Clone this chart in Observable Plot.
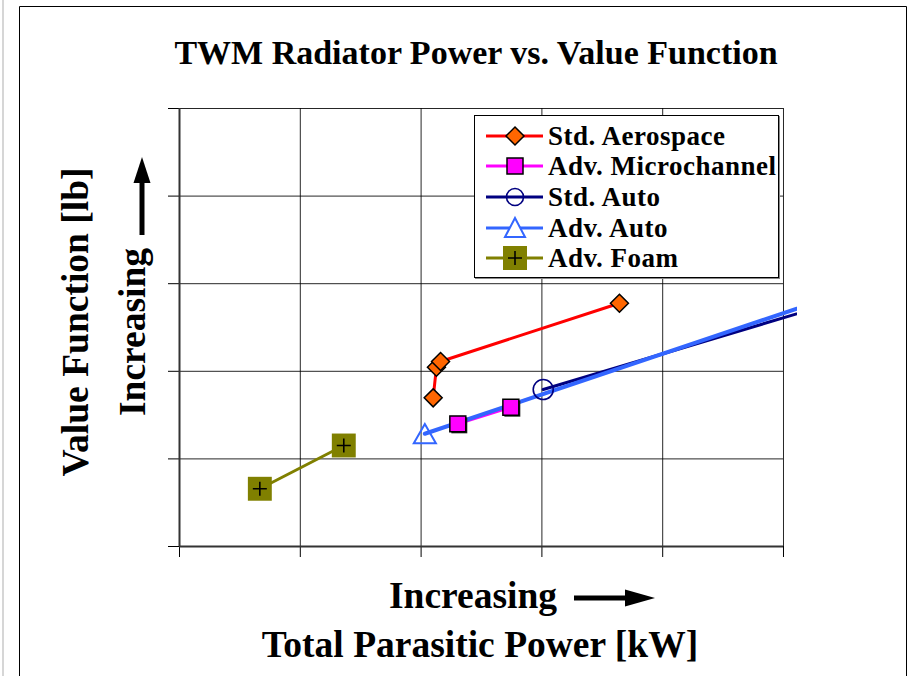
<!DOCTYPE html>
<html><head><meta charset="utf-8">
<script src="https://cdn.jsdelivr.net/npm/d3@7"></script>
<script src="https://cdn.jsdelivr.net/npm/@observablehq/plot@0.6"></script>
<style>
html,body{margin:0;padding:0;background:#fff;}
#wrap{position:relative;width:907px;height:676px;overflow:hidden;background:#fff;font-family:"Liberation Serif","Times New Roman",serif;font-weight:bold;color:#000;}
#wrap > svg{position:absolute;left:0;top:0;}
#legend{position:absolute;left:474px;top:115px;width:303px;height:161px;border:1px solid #000;background:#fff;box-shadow:1px 1px 0 #888;}
#legend .row{position:absolute;left:0;height:30px;width:303px;}
#legend .row svg{position:absolute;left:10px;top:0;}
#legend .row span{position:absolute;left:73px;top:0;line-height:30px;font-size:27px;letter-spacing:0.5px;white-space:nowrap;}
</style></head><body><div id="wrap"></div>
<script>
// ---- data (axes have no numeric labels, units = grid cells) ----
const xTicks = [0, 1, 2, 3, 4, 5];
const yTicks = [0, 1, 2, 3, 4, 5];
const seriesNames = ["Std. Aerospace", "Adv. Microchannel", "Std. Auto", "Adv. Auto", "Adv. Foam"];
const stdAeroX = [2.100, 2.127, 2.161, 3.642];
const stdAeroY = [1.697, 2.047, 2.112, 2.777];
const advMicroX = [2.304, 2.743];
const advMicroY = [1.400, 1.590];
const stdAutoX = [3.011, 5.4];
const stdAutoY = [1.792, 2.776];
const advAutoX = [2.031, 5.4];
const advAutoY = [1.287, 2.849];
const advFoamX = [0.665, 1.360];
const advFoamY = [0.659, 1.153];
const titleText = "TWM Radiator Power vs. Value Function";
const xLabel = "Total Parasitic Power [kW]";
const yLabel = "Value Function [lb]";
const dirLabel = "Increasing";

const rows = (name, xs, ys) => xs.map((x, i) => ({series: name, x, y: ys[i]}));
const aero = rows(seriesNames[0], stdAeroX, stdAeroY);
const micro = rows(seriesNames[1], advMicroX, advMicroY);
const stdAuto = rows(seriesNames[2], stdAutoX, stdAutoY);
const advAuto = rows(seriesNames[3], advAutoX, advAutoY);
const foam = rows(seriesNames[4], advFoamX, advFoamY);

const plusSymbol = {draw(ctx, size) { const r = Math.sqrt(size / Math.PI); ctx.moveTo(-r, 0); ctx.lineTo(r, 0); ctx.moveTo(0, -r); ctx.lineTo(0, r); }};

const chart = Plot.plot({
  width: 907, height: 676,
  marginLeft: 179, marginRight: 110, marginTop: 108, marginBottom: 130,
  x: {domain: [0, 5.116], axis: null},
  y: {domain: [0, 5], axis: null},
  style: {background: "transparent"},
  marks: [
    Plot.ruleX(xTicks, {x: d => d, y1: 0, y2: 5, stroke: "#000", strokeWidth: 1, strokeOpacity: 0.85}),
    Plot.ruleY(yTicks, {y: d => d, x1: 0, x2: 5, stroke: "#000", strokeWidth: 1, strokeOpacity: 0.85}),
    Plot.axisX({ticks: xTicks, tickSize: 11, tickFormat: () => "", label: null, stroke: "#000"}),
    Plot.axisY({ticks: yTicks, tickSize: 11, tickFormat: () => "", label: null, stroke: "#000"}),
    Plot.ruleY([0], {x1: 0, x2: 5, stroke: "#333", strokeWidth: 2}),
    Plot.ruleX([0], {y1: 0, y2: 5, stroke: "#333", strokeWidth: 2}),
    Plot.line(aero, {x: "x", y: "y", stroke: "#FF0000", strokeWidth: 3, clip: "frame"}),
    Plot.line(micro, {x: "x", y: "y", stroke: "#FF00FF", strokeWidth: 3}),
    Plot.line(stdAuto, {x: "x", y: "y", stroke: "#000080", strokeWidth: 3, clip: "frame"}),
    Plot.line(advAuto, {x: "x", y: "y", stroke: "#3366FF", strokeWidth: 4, clip: "frame"}),
    Plot.line(foam, {x: "x", y: "y", stroke: "#808000", strokeWidth: 3}),
    Plot.dot(aero, {x: "x", y: "y", symbol: "diamond2", r: 8.1, fill: "#FF6600", stroke: "#000", strokeWidth: 1.5}),
    Plot.dot(micro, {x: "x", y: "y", symbol: "square", r: 9, fill: "#222", stroke: "none", dx: 1.5, dy: 1.5}),
    Plot.dot(micro, {x: "x", y: "y", symbol: "square", r: 9, fill: "#FF00FF", stroke: "#000", strokeWidth: 1.5}),
    Plot.dot(stdAuto, {x: "x", y: "y", symbol: "circle", r: 10, fill: "none", stroke: "#000080", strokeWidth: 1.6, clip: "frame"}),
    Plot.dot(advAuto, {x: "x", y: "y", symbol: "triangle", r: 8.2, dy: 3, fill: "none", stroke: "#3366FF", strokeWidth: 2, clip: "frame"}),
    Plot.dot(foam, {x: "x", y: "y", symbol: "square", r: 13.5, fill: "#808000", stroke: "none"}),
    Plot.dot(foam, {x: "x", y: "y", symbol: plusSymbol, r: 7, fill: "none", stroke: "#000", strokeWidth: 1.6})
  ]
});
const wrap = document.getElementById("wrap");
wrap.appendChild(chart);

// overlay: frame, title, axis labels, arrows
const ov = d3.select(wrap).append("svg").attr("width", 907).attr("height", 676)
  .style("font-family", '"Liberation Serif","Times New Roman",serif').style("font-weight", "bold");
ov.append("line").attr("x1", 3).attr("x2", 3).attr("y1", 0).attr("y2", 676).attr("stroke", "#c8c8c8").attr("stroke-width", 1.5);
ov.append("path").attr("d", "M19.5,676V6.5H906.5V676").attr("fill", "none").attr("stroke", "#000").attr("stroke-width", 1);
ov.append("text").attr("x", 476).attr("y", 64).attr("text-anchor", "middle").attr("font-size", 34).text(titleText);
ov.append("text").attr("x", 389).attr("y", 608).attr("font-size", 37.5).text(dirLabel);
ov.append("line").attr("x1", 574).attr("x2", 628).attr("y1", 598).attr("y2", 598).attr("stroke", "#000").attr("stroke-width", 5);
ov.append("path").attr("d", "M625,589.5L655,598L625,606.5Z").attr("fill", "#000");
ov.append("text").attr("x", 480).attr("y", 657).attr("text-anchor", "middle").attr("font-size", 37.5).text(xLabel);
ov.append("text").attr("transform", "translate(88,322) rotate(-90)").attr("text-anchor", "middle").attr("font-size", 37.5).text(yLabel);
ov.append("text").attr("transform", "translate(145,332) rotate(-90)").attr("text-anchor", "middle").attr("font-size", 37.5).text(dirLabel);
ov.append("line").attr("x1", 142).attr("x2", 142).attr("y1", 235).attr("y2", 180).attr("stroke", "#000").attr("stroke-width", 5);
ov.append("path").attr("d", "M133.5,183L142,157L150.5,183Z").attr("fill", "#000");

// legend
const legendSpec = [
  {name: seriesNames[0], color: "#FF0000", w: 3, marker: g => g.append("path").attr("d", "M30,6L39,15L30,24L21,15Z").attr("fill", "#FF6600").attr("stroke", "#000").attr("stroke-width", 1.5)},
  {name: seriesNames[1], color: "#FF00FF", w: 3, marker: g => g.append("rect").attr("x", 22).attr("y", 7).attr("width", 16).attr("height", 16).attr("fill", "#FF00FF").attr("stroke", "#000").attr("stroke-width", 1.5)},
  {name: seriesNames[2], color: "#000080", w: 3, marker: g => g.append("circle").attr("cx", 30).attr("cy", 15).attr("r", 8.5).attr("fill", "none").attr("stroke", "#000080").attr("stroke-width", 1.6)},
  {name: seriesNames[3], color: "#3366FF", w: 3, marker: g => g.append("path").attr("d", "M30,5L40,24L20,24Z").attr("fill", "#fff").attr("stroke", "#3366FF").attr("stroke-width", 2)},
  {name: seriesNames[4], color: "#808000", w: 3, marker: g => { g.append("rect").attr("x", 18).attr("y", 3).attr("width", 24).attr("height", 24).attr("fill", "#808000"); g.append("path").attr("d", "M23,15H37M30,8V22").attr("stroke", "#000").attr("stroke-width", 1.6); }}
];
const legendCenters = [20, 50, 81, 112, 142];
const lg = d3.select(wrap).append("div").attr("id", "legend");
legendSpec.forEach((s, i) => {
  const row = lg.append("div").attr("class", "row").style("top", (legendCenters[i] - 15) + "px");
  const svg = row.append("svg").attr("width", 60).attr("height", 30);
  svg.append("line").attr("x1", 1).attr("x2", 58).attr("y1", 15).attr("y2", 15).attr("stroke", s.color).attr("stroke-width", s.w);
  s.marker(svg);
  row.append("span").text(s.name);
});
</script></body></html>
